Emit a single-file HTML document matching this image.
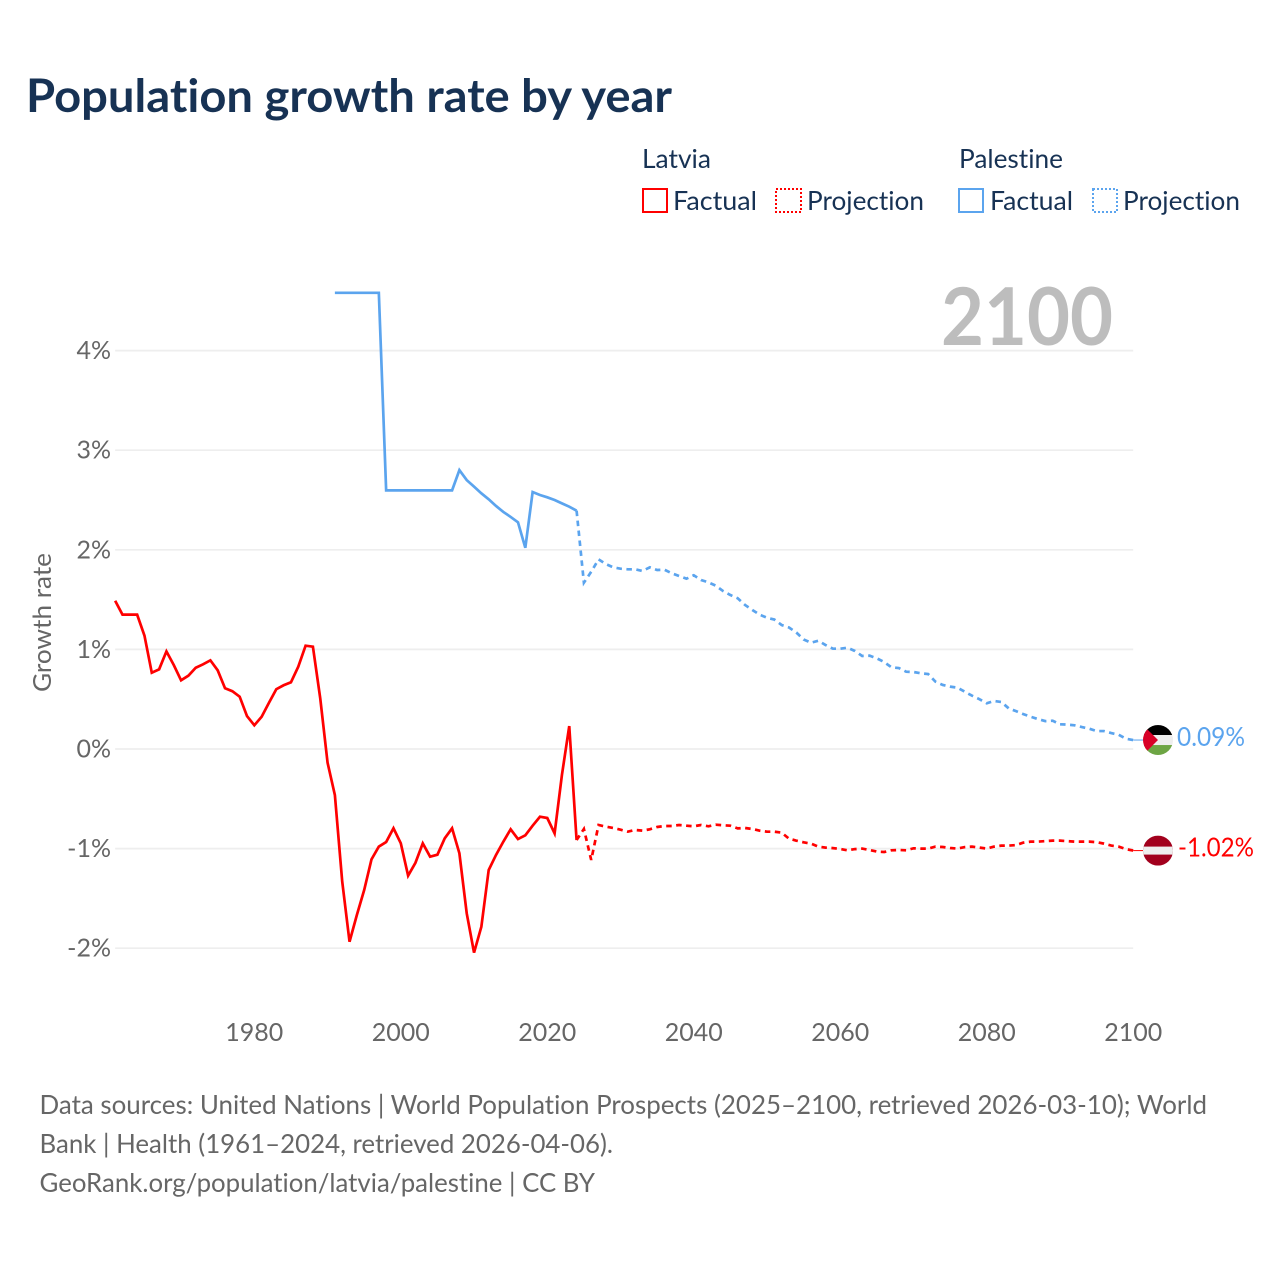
<!DOCTYPE html>
<html lang="en">
<head>
<meta charset="utf-8">
<title>Population growth rate by year</title>
<style>
html,body{margin:0;padding:0;background:#fff;}
svg{display:block;font-family:"Lato","Carlito","Liberation Sans",sans-serif;font-variant-ligatures:none;font-feature-settings:"liga" 0,"clig" 0;}
</style>
</head>
<body>
<svg id="chart" xmlns="http://www.w3.org/2000/svg" width="1280" height="1280" viewBox="0 0 1280 1280">
<rect x="0" y="0" width="1280" height="1280" fill="#ffffff"/>
<text x="26" y="112" font-size="46" font-weight="700" fill="#173254" textLength="646" lengthAdjust="spacingAndGlyphs">Population growth rate by year</text>

<g font-size="26" fill="#173254">
<text x="642" y="168" textLength="69" lengthAdjust="spacingAndGlyphs">Latvia</text>
<text x="959" y="168" textLength="104" lengthAdjust="spacingAndGlyphs">Palestine</text>
<rect x="643" y="189" width="24" height="23" fill="none" stroke="#ff0000" stroke-width="2"/>
<text x="673" y="210" textLength="84" lengthAdjust="spacingAndGlyphs">Factual</text>
<rect x="776" y="189" width="25" height="23" fill="none" stroke="#ff0000" stroke-width="2" stroke-dasharray="2 2"/>
<text x="807" y="210" textLength="117" lengthAdjust="spacingAndGlyphs">Projection</text>
<rect x="959" y="189" width="24" height="23" fill="none" stroke="#5ba4ee" stroke-width="2"/>
<text x="990" y="210" textLength="83" lengthAdjust="spacingAndGlyphs">Factual</text>
<rect x="1093" y="189" width="24" height="23" fill="none" stroke="#5ba4ee" stroke-width="2" stroke-dasharray="2 2"/>
<text x="1123" y="210" textLength="117" lengthAdjust="spacingAndGlyphs">Projection</text>
</g>

<g id="grid"></g>
<text x="941" y="345" font-size="80" font-weight="700" fill="#bdbdbd" textLength="172" lengthAdjust="spacingAndGlyphs">2100</text>
<g id="yticks" font-size="25" fill="#666666" text-anchor="end"></g>
<g id="xticks" font-size="25" fill="#666666" text-anchor="middle"></g>
<text x="0" y="0" transform="translate(51,692) rotate(-90)" font-size="25" fill="#666666" textLength="139" lengthAdjust="spacingAndGlyphs">Growth rate</text>
<g id="series"></g>

<g id="flag-palestine">
<defs><clipPath id="clip-ps"><circle cx="0" cy="0" r="15"/></clipPath><clipPath id="clip-lv"><circle cx="0" cy="0" r="15"/></clipPath></defs>
<g clip-path="url(#clip-ps)">
<rect x="-15" y="-15" width="30" height="10" fill="#000000"/>
<rect x="-15" y="-5" width="30" height="10" fill="#eeeeee"/>
<rect x="-15" y="5" width="30" height="10" fill="#6da544"/>
<polygon points="-15,-15 0,0 -15,15" fill="#d80027"/>
</g>
</g>
<g id="flag-latvia">
<g clip-path="url(#clip-lv)">
<rect x="-15" y="-15" width="30" height="30" fill="#a2001d"/>
<rect x="-15" y="-4" width="30" height="8" fill="#eeeeee"/>
</g>
</g>
<text id="end-label-palestine" x="1177" font-size="26" fill="#5ba4ee" textLength="68" lengthAdjust="spacingAndGlyphs"></text>
<text id="end-label-latvia" x="1178" font-size="26" fill="#ff0000" textLength="76" lengthAdjust="spacingAndGlyphs"></text>

<g font-size="26" fill="#666666">
<text x="39.5" y="1114" textLength="1167.5" lengthAdjust="spacingAndGlyphs">Data sources: United Nations | World Population Prospects (2025–2100, retrieved 2026-03-10); World</text>
<text x="39.5" y="1153" textLength="573.5" lengthAdjust="spacingAndGlyphs">Bank | Health (1961–2024, retrieved 2026-04-06).</text>
<text x="39.5" y="1192" textLength="555.5" lengthAdjust="spacingAndGlyphs">GeoRank.org/population/latvia/palestine | CC BY</text>
</g>
</svg>
<script>
const xTickYears = [1980, 2000, 2020, 2040, 2060, 2080, 2100];
const yTickValues = [-2, -1, 0, 1, 2, 3, 4];
const latviaFactualYears = [1961,1962,1963,1964,1965,1966,1967,1968,1969,1970,1971,1972,1973,1974,1975,1976,1977,1978,1979,1980,1981,1982,1983,1984,1985,1986,1987,1988,1989,1990,1991,1992,1993,1994,1995,1996,1997,1998,1999,2000,2001,2002,2003,2004,2005,2006,2007,2008,2009,2010,2011,2012,2013,2014,2015,2016,2017,2018,2019,2020,2021,2022,2023,2024];
const latviaFactual = [1.489,1.349,1.349,1.349,1.138,0.766,0.80,0.98,0.843,0.69,0.736,0.816,0.85,0.89,0.79,0.61,0.58,0.525,0.33,0.238,0.324,0.465,0.60,0.64,0.67,0.826,1.037,1.027,0.509,-0.137,-0.462,-1.33,-1.935,-1.667,-1.416,-1.108,-0.98,-0.934,-0.796,-0.947,-1.272,-1.142,-0.947,-1.081,-1.061,-0.897,-0.796,-1.047,-1.65,-2.045,-1.784,-1.215,-1.064,-0.93,-0.806,-0.904,-0.867,-0.77,-0.68,-0.693,-0.847,-0.26,0.23,-0.914];
const latviaProjectionYears = [2024,2025,2026,2027,2028,2029,2030,2031,2032,2033,2034,2035,2036,2037,2038,2039,2040,2041,2042,2043,2044,2045,2046,2047,2048,2049,2050,2051,2052,2053,2054,2055,2056,2057,2058,2059,2060,2061,2062,2063,2064,2065,2066,2067,2068,2069,2070,2071,2072,2073,2074,2075,2076,2077,2078,2079,2080,2081,2082,2083,2084,2085,2086,2087,2088,2089,2090,2091,2092,2093,2094,2095,2096,2097,2098,2099,2100];
const latviaProjection = [-0.914,-0.803,-1.114,-0.763,-0.78,-0.793,-0.81,-0.83,-0.813,-0.82,-0.806,-0.783,-0.773,-0.773,-0.763,-0.77,-0.776,-0.763,-0.776,-0.76,-0.766,-0.77,-0.797,-0.793,-0.803,-0.82,-0.83,-0.83,-0.84,-0.90,-0.92,-0.937,-0.95,-0.98,-0.99,-0.995,-1.004,-1.017,-1.005,-1.0,-1.014,-1.03,-1.034,-1.017,-1.014,-1.017,-0.997,-1.0,-1.0,-0.98,-0.984,-0.994,-1.0,-0.985,-0.98,-0.99,-1.0,-0.98,-0.97,-0.97,-0.965,-0.94,-0.93,-0.93,-0.925,-0.92,-0.92,-0.925,-0.93,-0.93,-0.93,-0.935,-0.95,-0.97,-0.98,-1.005,-1.02];
const palestineFactualYears = [1991,1992,1993,1994,1995,1996,1997,1998,1999,2000,2001,2002,2003,2004,2005,2006,2007,2008,2009,2010,2011,2012,2013,2014,2015,2016,2017,2018,2019,2020,2021,2022,2023,2024];
const palestineFactual = [4.58,4.58,4.58,4.58,4.58,4.58,4.58,2.597,2.597,2.597,2.597,2.597,2.597,2.597,2.597,2.597,2.597,2.80,2.70,2.634,2.567,2.507,2.44,2.38,2.33,2.276,2.02,2.58,2.55,2.527,2.50,2.466,2.433,2.393];
const palestineProjectionYears = [2024,2025,2026,2027,2028,2029,2030,2031,2032,2033,2034,2035,2036,2037,2038,2039,2040,2041,2042,2043,2044,2045,2046,2047,2048,2049,2050,2051,2052,2053,2054,2055,2056,2057,2058,2059,2060,2061,2062,2063,2064,2065,2066,2067,2068,2069,2070,2071,2072,2073,2074,2075,2076,2077,2078,2079,2080,2081,2082,2083,2084,2085,2086,2087,2088,2089,2090,2091,2092,2093,2094,2095,2096,2097,2098,2099,2100];
const palestineProjection = [2.393,1.67,1.78,1.904,1.857,1.824,1.81,1.804,1.804,1.787,1.824,1.797,1.80,1.764,1.737,1.71,1.744,1.697,1.673,1.64,1.586,1.546,1.513,1.446,1.396,1.348,1.318,1.30,1.245,1.22,1.17,1.10,1.067,1.087,1.044,1.007,1.007,1.017,0.984,0.934,0.937,0.91,0.873,0.82,0.813,0.776,0.773,0.76,0.753,0.676,0.643,0.626,0.616,0.575,0.535,0.50,0.459,0.482,0.472,0.408,0.38,0.35,0.324,0.30,0.28,0.284,0.248,0.245,0.238,0.22,0.204,0.18,0.18,0.16,0.144,0.103,0.09];

const NS = 'http://www.w3.org/2000/svg';
function xScale(year) { return 1133.2 - (2100 - year) * 7.324; }
function yScale(value) { return 749 - value * 99.6; }
function linePath(years, values) {
  return values.map(function (v, i) {
    return (i ? 'L' : 'M') + xScale(years[i]).toFixed(2) + ' ' + yScale(v).toFixed(2);
  }).join(' ');
}

const gridGroup = document.getElementById('grid');
const yTickGroup = document.getElementById('yticks');
yTickValues.forEach(function (v) {
  const line = document.createElementNS(NS, 'line');
  
  
  line.setAttribute('x1', xScale(1961));
  line.setAttribute('x2', xScale(2100));
  line.setAttribute('y1', yScale(v));
  line.setAttribute('y2', yScale(v));
  line.setAttribute('stroke', '#eeeeee');
  line.setAttribute('stroke-width', '1.7');
  gridGroup.appendChild(line);
  const t = document.createElementNS(NS, 'text');
  
  
  t.setAttribute('x', 111);
  t.setAttribute('y', yScale(v) + 8.5);
  t.textContent = v + '%';
  yTickGroup.appendChild(t);
});

const xTickGroup = document.getElementById('xticks');
xTickYears.forEach(function (year) {
  const t = document.createElementNS(NS, 'text');
  
  
  t.setAttribute('x', xScale(year));
  t.setAttribute('y', 1041);
  t.textContent = year;
  xTickGroup.appendChild(t);
});

const seriesGroup = document.getElementById('series');
function drawLine(years, values, colour, dashed) {
  const p = document.createElementNS(NS, 'path');
  p.setAttribute('d', linePath(years, values));
  p.setAttribute('fill', 'none');
  p.setAttribute('stroke', colour);
  p.setAttribute('stroke-width', '2.7');
  p.setAttribute('stroke-linejoin', 'miter');
  if (dashed) p.setAttribute('stroke-dasharray', '5.5 4.5');
  seriesGroup.appendChild(p);
  return p;
}
const redColour = '#ff0000';
const blueColour = '#5ba4ee';
const lineLatvia = drawLine(latviaFactualYears, latviaFactual, redColour, false);


const lineLatviaProj = drawLine(latviaProjectionYears, latviaProjection, redColour, true);


const linePalestine = drawLine(palestineFactualYears, palestineFactual, blueColour, false);


const linePalestineProj = drawLine(palestineProjectionYears, palestineProjection, blueColour, true);



function placeEnd(values, flagId, labelId, colour, connectorName) {
  const last = values[values.length - 1];
  const y = yScale(last);
  const c = document.createElementNS(NS, 'line');
  
  
  c.setAttribute('x1', xScale(2100));
  c.setAttribute('x2', 1144);
  c.setAttribute('y1', y);
  c.setAttribute('y2', y);
  c.setAttribute('stroke', colour);
  c.setAttribute('stroke-width', '1');
  seriesGroup.appendChild(c);
  document.getElementById(flagId).setAttribute('transform', 'translate(1158,' + y.toFixed(2) + ')');
  const label = document.getElementById(labelId);
  label.setAttribute('y', (y + 6).toFixed(2));
  label.textContent = last.toFixed(2) + '%';
}
placeEnd(palestineProjection, 'flag-palestine', 'end-label-palestine', blueColour, 'connector-palestine');
placeEnd(latviaProjection, 'flag-latvia', 'end-label-latvia', redColour, 'connector-latvia');
</script>
</body>
</html>
